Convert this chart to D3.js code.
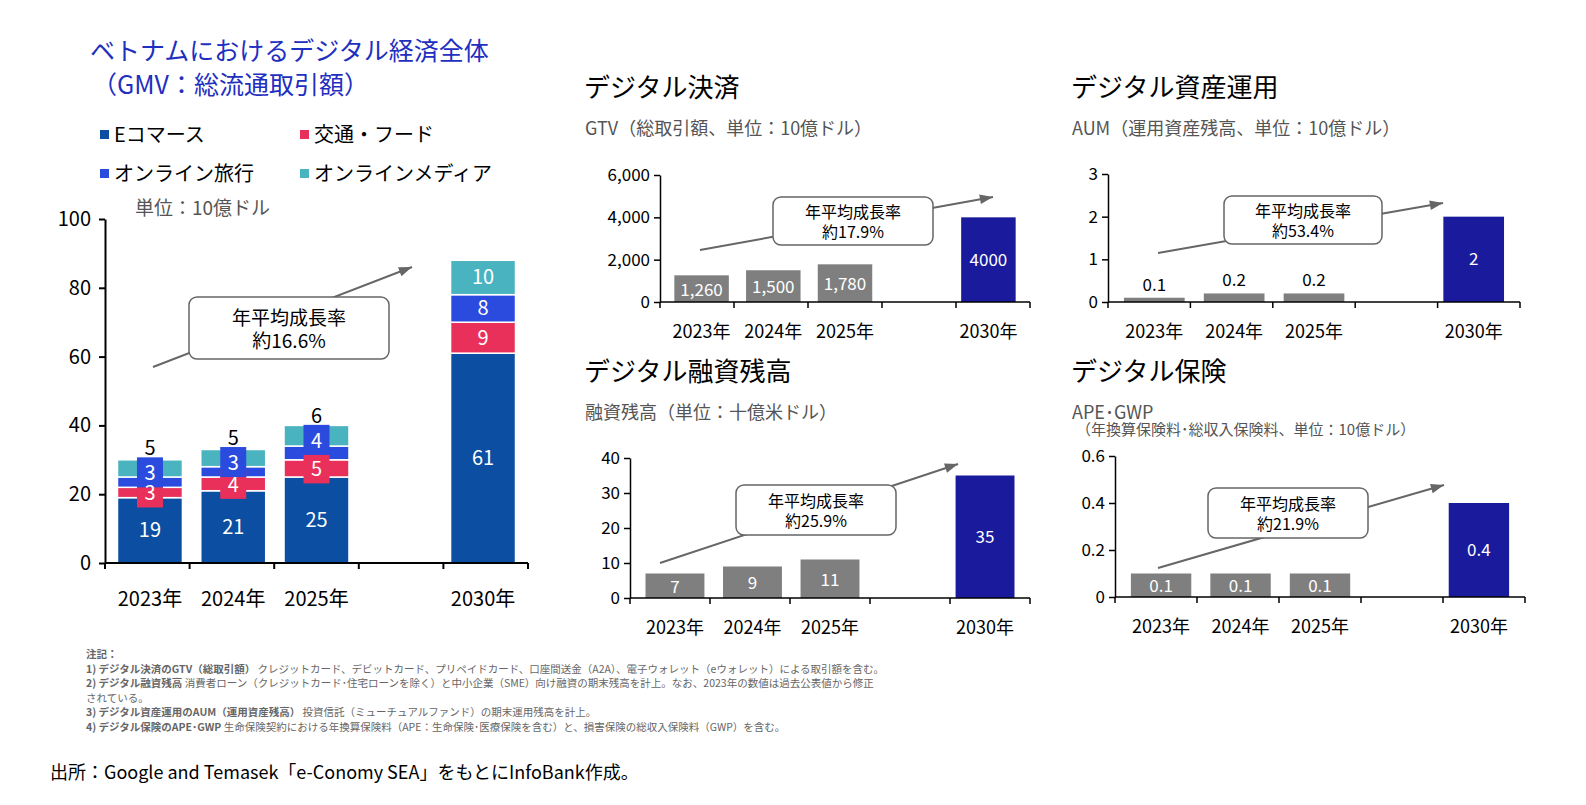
<!DOCTYPE html><html><head><meta charset="utf-8"><script src="https://cdn.jsdelivr.net/npm/d3@7"></script>
<style>body{margin:0;background:#fff}text{font-family:"Noto Sans CJK JP","Noto Sans",sans-serif}</style></head><body><svg id="s" width="1586" height="805"></svg><script>
const years=["2023年","2024年","2025年","","2030年"];
const ecommerce=[19,21,25,null,61], transport=[3,4,5,null,9], travel=[3,3,4,null,8], media=[5,5,6,null,10];
const gtv=[1260,1500,1780,null,4000], gtvLabels=["1,260","1,500","1,780","","4000"];
const aum=[0.1,0.2,0.2,null,2], aumLabels=["0.1","0.2","0.2","","2"];
const loans=[7,9,11,null,35];
const ins=[0.1,0.1,0.1,null,0.4];
const colors={ecom:"#0b4ea2",trans:"#e8305a",travel:"#2b4bde",media:"#4ab3c0",grey:"#7f7f7f",navy:"#1a1a9c"};
const svg=d3.select("#s");
const F="'Noto Sans CJK JP',sans-serif";
function T(x,y,t,o={}){return svg.append("text").attr("x",x).attr("y",y).text(t).attr("font-size",o.s||14).attr("fill",o.c||"#000").attr("text-anchor",o.a||"start").attr("font-weight",o.w||"normal");}
T(90,60,"ベトナムにおけるデジタル経済全体",{s:25,c:"#1f2fbf"});
T(92,94,"（GMV：総流通取引額）",{s:25,c:"#1f2fbf"});
const leg=[["Eコマース",colors.ecom,100,142],["交通・フード",colors.trans,300,142],["オンライン旅行",colors.travel,100,181],["オンラインメディア",colors.media,300,181]];
leg.forEach(l=>{svg.append("rect").attr("x",l[2]).attr("y",l[3]-12).attr("width",9).attr("height",9).attr("fill",l[1]);T(l[2]+14,l[3],l[0],{s:20});});
T(135,215,"単位：10億ドル",{s:19,c:"#555"});
function arrow(x1,y1,x2,y2){svg.append("line").attr("x1",x1).attr("y1",y1).attr("x2",x2).attr("y2",y2).attr("stroke","#666").attr("stroke-width",2);
 const a=Math.atan2(y2-y1,x2-x1),L=14;svg.append("path").attr("d",`M${x2},${y2}L${x2-L*Math.cos(a-0.35)},${y2-L*Math.sin(a-0.35)}L${x2-L*Math.cos(a+0.35)},${y2-L*Math.sin(a+0.35)}Z`).attr("fill","#666");}
function callout(x,y,w,h,l1,l2,fs){svg.append("rect").attr("x",x).attr("y",y).attr("width",w).attr("height",h).attr("rx",8).attr("fill","#fff").attr("stroke","#666").attr("stroke-width",1.5);
 T(x+w/2,y+h/2-3,l1,{s:fs,a:"middle"});T(x+w/2,y+h/2+fs+1,l2,{s:fs,a:"middle"});}
{const x=d3.scaleBand().domain(years.map((d,i)=>i)).range([105,528]).paddingInner(0.22).paddingOuter(0.15);
 const y=d3.scaleLinear().domain([0,100]).range([563,219]);
 const g=svg.append("g");
 years.forEach((yr,i)=>{if(ecommerce[i]==null)return;
  const segs=[[ecommerce[i],colors.ecom],[transport[i],colors.trans],[travel[i],colors.travel],[media[i],colors.media]];let b=0;
  segs.forEach(s=>{g.append("rect").attr("x",x(i)).attr("width",x.bandwidth()).attr("y",y(b+s[0])).attr("height",y(b)-y(b+s[0])).attr("fill",s[1]).attr("stroke","#fff").attr("stroke-width",1.5);b+=s[0];});
  const cx=x(i)+x.bandwidth()/2;
  if(i<3){let b1=ecommerce[i];
   T(cx,y(b1/2)+7,ecommerce[i],{s:20,c:"#fff",a:"middle"});
   const bw=26;
   const ty=y(b1+transport[i]/2);g.append("rect").attr("x",cx-bw/2).attr("y",ty-14).attr("width",bw).attr("height",29).attr("fill",colors.trans);T(cx,ty+8,transport[i],{s:20,c:"#fff",a:"middle"});
   const top=ecommerce[i]+transport[i]+travel[i];const vy=y(top+travel[i]*0.45);g.append("rect").attr("x",cx-bw/2).attr("y",vy-15).attr("width",bw).attr("height",30).attr("fill",colors.travel);T(cx,vy+8,travel[i],{s:20,c:"#fff",a:"middle"});
   T(cx,vy-17,media[i],{s:20,a:"middle"});
  } else {let b=0;[[ecommerce[i],colors.ecom],[transport[i],colors.trans],[travel[i],colors.travel],[media[i],colors.media]].forEach(s=>{T(cx,y(b+s[0]/2)+7,s[0],{s:20,c:"#fff",a:"middle"});b+=s[0];});}
 });
 g.append("g").attr("transform","translate(105,0)").call(d3.axisLeft(y).ticks(5).tickSize(6).tickSizeOuter(0)).call(a=>{a.selectAll("text").attr("font-size",20).attr("font-family",F).attr("fill","#000").attr("x",-14);a.selectAll("line,path").attr("stroke","#000").attr("stroke-width",2);});
 const ax=g.append("g").attr("transform","translate(0,563)");ax.append("line").attr("x1",105).attr("x2",528).attr("stroke","#000").attr("stroke-width",2);
 for(let k=0;k<=5;k++){const xx=105+423*k/5;ax.append("line").attr("x1",xx).attr("x2",xx).attr("y2",6).attr("stroke","#000").attr("stroke-width",2);}
 years.forEach((yr,i)=>{if(yr)T(x(i)+x.bandwidth()/2,606,yr,{s:20,a:"middle"});});
 arrow(153,367,412,267);callout(189,297,200,62,"年平均成長率","約16.6%",19);
}
function small(o){
 T(o.tx,o.ty,o.title,{s:26});T(o.tx+1,o.ty+38,o.sub,{s:18,c:"#555"});if(o.sub2)T(o.tx+5,o.ty+54,o.sub2,{s:15,c:"#555"});
 const x=d3.scaleBand().domain(years.map((d,i)=>i)).range([o.x0,o.x1]).paddingInner(0.24).paddingOuter(0.2);
 const y=d3.scaleLinear().domain([0,o.max]).range([o.y0,o.ytop]);
 o.data.forEach((v,i)=>{if(v==null)return;const last=i==4;
  svg.append("rect").attr("x",x(i)).attr("width",x.bandwidth()).attr("y",y(v)).attr("height",o.y0-y(v)).attr("fill",last?colors.navy:colors.grey);
  const cx=x(i)+x.bandwidth()/2, lab=o.labels?o.labels[i]:String(v);
  let ly=last?(y(v)+o.y0)/2+6:(o.above?y(v)-7:Math.min((y(v)+o.y0)/2+7,o.y0-4));
  if(!last&&!o.above&&o.y0-y(v)<18)ly=o.y0-4;
  T(cx,ly,lab,{s:17,c:(o.above&&!last)?"#000":"#fff",a:"middle"});
 });
 svg.append("g").attr("transform",`translate(${o.x0},0)`).call(d3.axisLeft(y).tickValues(o.ticks).tickFormat(o.fmt).tickSize(6).tickSizeOuter(0)).call(a=>{a.selectAll("text").attr("font-size",17).attr("font-family",F).attr("fill","#000").attr("x",-10);a.selectAll("line,path").attr("stroke","#000").attr("stroke-width",1.5);});
 svg.append("line").attr("x1",o.x0).attr("x2",o.x1).attr("y1",o.y0).attr("y2",o.y0).attr("stroke","#000").attr("stroke-width",1.5);
 for(let k=0;k<=5;k++){const xx=o.x0+(o.x1-o.x0)*k/5;svg.append("line").attr("x1",xx).attr("x2",xx).attr("y1",o.y0).attr("y2",o.y0+6).attr("stroke","#000").attr("stroke-width",1.5);}
 years.forEach((yr,i)=>{if(yr)T(x(i)+x.bandwidth()/2,o.y0+36,yr,{s:18,a:"middle"});});
 arrow(...o.arr);callout(...o.box,"年平均成長率",o.rate,16);
}
small({tx:584,ty:97,title:"デジタル決済",sub:"GTV（総取引額、単位：10億ドル）",x0:660,x1:1030,y0:302,ytop:175,max:6000,ticks:[0,2000,4000,6000],fmt:d3.format(","),data:gtv,labels:gtvLabels,arr:[700,250,993,197],box:[773,197,160,48],rate:"約17.9%"});
small({tx:1071,ty:97,title:"デジタル資産運用",sub:"AUM（運用資産残高、単位：10億ドル）",x0:1108,x1:1520,y0:302,ytop:174,max:3,ticks:[0,1,2,3],fmt:d3.format("d"),data:aum,labels:aumLabels,above:true,arr:[1158,253,1443,203],box:[1224,196,158,48],rate:"約53.4%"});
small({tx:584,ty:381,title:"デジタル融資残高",sub:"融資残高（単位：十億米ドル）",x0:630,x1:1030,y0:598,ytop:458,max:40,ticks:[0,10,20,30,40],fmt:d3.format("d"),data:loans,arr:[660,563,958,464],box:[736,485,160,50],rate:"約25.9%"});
small({tx:1071,ty:381,title:"デジタル保険",sub:"APE･GWP",sub2:"（年換算保険料･総収入保険料、単位：10億ドル）",x0:1115,x1:1525,y0:597,ytop:456,max:0.6,ticks:[0,0.2,0.4,0.6],fmt:d=>d?d.toFixed(1):"0",data:ins,arr:[1158,568,1444,485],box:[1208,488,160,50],rate:"約21.9%"});
const notes=[["注記：",""],["1) デジタル決済のGTV（総取引額）","クレジットカード、デビットカード、プリペイドカード、口座間送金（A2A）、電子ウォレット（eウォレット）による取引額を含む。"],["2) デジタル融資残高","消費者ローン（クレジットカード･住宅ローンを除く）と中小企業（SME）向け融資の期末残高を計上。なお、2023年の数値は過去公表値から修正"],["","されている。"],["3) デジタル資産運用のAUM（運用資産残高）","投資信託（ミューチュアルファンド）の期末運用残高を計上。"],["4) デジタル保険のAPE･GWP","生命保険契約における年換算保険料（APE：生命保険･医療保険を含む）と、損害保険の総収入保険料（GWP）を含む。"]];
notes.forEach((n,i)=>{const t=svg.append("text").attr("x",86).attr("y",658+i*14.5).attr("font-size",10.5).attr("fill","#666");t.append("tspan").attr("font-weight","bold").text(n[0]);t.append("tspan").text(n[1]?" "+n[1]:"");});
T(50,779,"出所：Google and Temasek「e-Conomy SEA」をもとにInfoBank作成。",{s:18});
</script></body></html>
